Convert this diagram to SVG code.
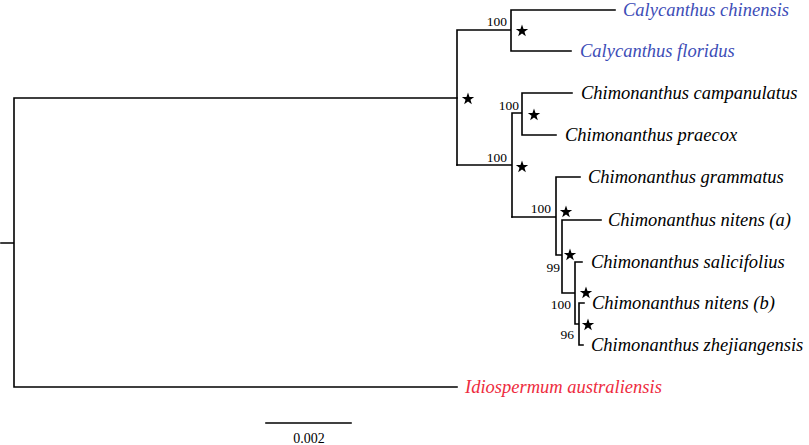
<svg xmlns="http://www.w3.org/2000/svg" width="809" height="445" viewBox="0 0 809 445">
<style>
.br{fill:none;stroke:#000;stroke-width:1.6;stroke-linecap:square}
.lab{font-family:"Liberation Serif","Times New Roman",serif;font-style:italic;font-size:18.5px;fill:#000}
.blue{fill:#3d4db7}
.red{fill:#ee2c40}
.bs{font-family:"Liberation Serif","Times New Roman",serif;font-size:13.5px;fill:#000;text-anchor:end}
.sc{font-family:"Liberation Serif","Times New Roman",serif;font-size:14px;fill:#000;text-anchor:middle}
</style>
<defs>
<polygon id="star" points="0,-6.5 1.53,-2.1 6.18,-2.01 2.47,0.8 3.82,5.26 0,2.6 -3.82,5.26 -2.47,0.8 -6.18,-2.01 -1.53,-2.1" fill="#000"/>
</defs>
<rect width="809" height="445" fill="#fff"/>
<g id="connectors" class="br">
<path d="M1,243H14M14,98V387M14,98H457M14,387H457"/>
<path d="M457,30V165M457,30H511M511,10V51M511,10H615M511,51H571"/>
<path d="M457,165H512M512,113V217M512,113H522M522,93V135M522,93H572M522,135H556"/>
<path d="M512,217H556M556,177V255M556,177H580M556,255H562M562,220V293M562,220H601M562,293H575M575,262V324M575,262H582M575,324H579M579,303V345M579,303H584M579,345H583"/>
</g>
<g id="support">
<use href="#star" x="522" y="31"/>
<use href="#star" x="468" y="99"/>
<use href="#star" x="534" y="115"/>
<use href="#star" x="522" y="167"/>
<use href="#star" x="566" y="212"/>
<use href="#star" x="570" y="255"/>
<use href="#star" x="586" y="293"/>
<use href="#star" x="588" y="325"/>
<text class="bs" x="507" y="26">100</text>
<text class="bs" x="519" y="110">100</text>
<text class="bs" x="507" y="162">100</text>
<text class="bs" x="551" y="213">100</text>
<text class="bs" x="560" y="272">99</text>
<text class="bs" x="571" y="309">100</text>
<text class="bs" x="574" y="339">96</text>
</g>
<g id="taxon-calycanthus-chinensis"><text class="lab blue" x="623" y="16">Calycanthus chinensis</text></g>
<g id="taxon-calycanthus-floridus"><text class="lab blue" x="580" y="57">Calycanthus floridus</text></g>
<g id="taxon-chimonanthus-campanulatus"><text class="lab" x="581" y="99">Chimonanthus campanulatus</text></g>
<g id="taxon-chimonanthus-praecox"><text class="lab" x="565" y="141">Chimonanthus praecox</text></g>
<g id="taxon-chimonanthus-grammatus"><text class="lab" x="588" y="183">Chimonanthus grammatus</text></g>
<g id="taxon-chimonanthus-nitens-a"><text class="lab" x="608" y="226">Chimonanthus nitens (a)</text></g>
<g id="taxon-chimonanthus-salicifolius"><text class="lab" x="591" y="268">Chimonanthus salicifolius</text></g>
<g id="taxon-chimonanthus-nitens-b"><text class="lab" x="592" y="309">Chimonanthus nitens (b)</text></g>
<g id="taxon-chimonanthus-zhejiangensis"><text class="lab" x="591" y="351">Chimonanthus zhejiangensis</text></g>
<g id="taxon-idiospermum-australiensis"><text class="lab red" x="465" y="393">Idiospermum australiensis</text></g>
<g id="scale-bar">
<path class="br" d="M266,423H351"/>
<text class="sc" x="309" y="443">0.002</text>
</g>
</svg>
